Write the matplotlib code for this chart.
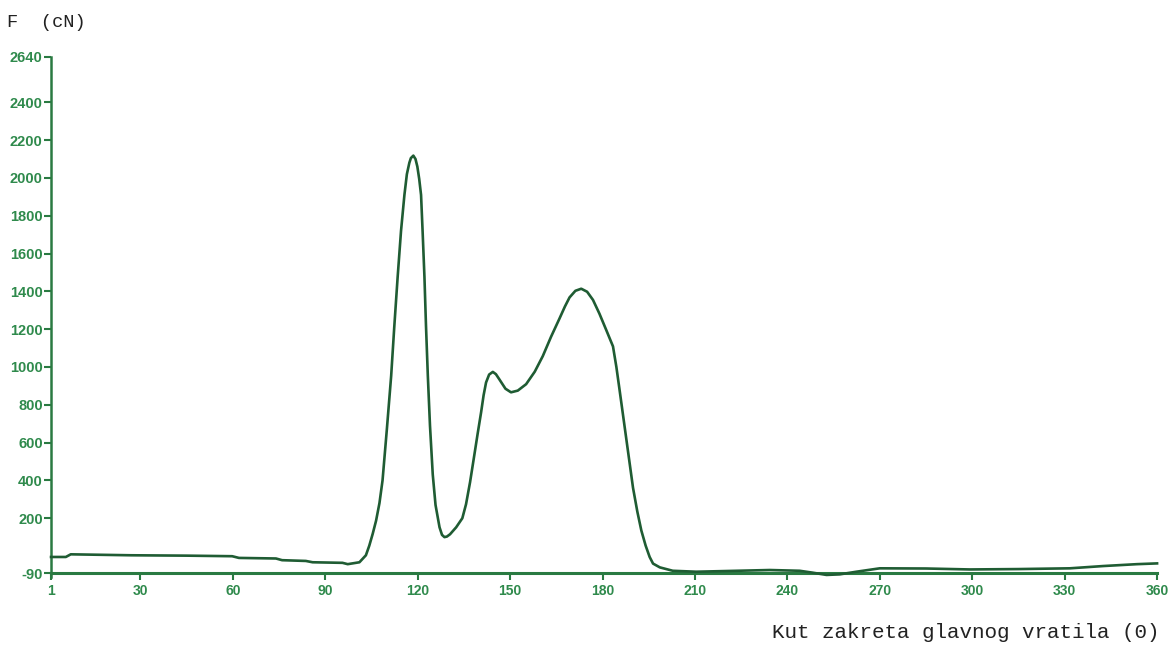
import matplotlib.pyplot as plt
import numpy as np

plt.rcParams["axes.unicode_minus"] = False

# Crank angle (deg) and force F (cN)
angle = [1, 5.8, 7.4, 27, 45, 59.8, 62, 74, 76, 83.7, 85.9, 95.6, 97.3, 101.1,
         103.2, 104.3, 105.4, 106.5, 107.6, 108.6, 110, 111.4, 112.4, 113.5,
         114.6, 115.7, 116.5, 117.3, 117.8, 118.6, 119.3, 119.9, 120.5, 121.1,
         121.6, 122.2, 122.7, 123.3, 124, 124.9, 125.8, 127.1, 127.9, 128.7,
         129.5, 130.5, 132.5, 134.5, 135.7, 137, 138.4, 139.5, 140.6, 141.4,
         142.2, 143.2, 144.4, 145.4, 146.5, 148.5, 150.3, 152.5, 155.2, 158,
         160.6, 163.3, 166, 167.8, 169.3, 171.2, 173.1, 175, 176.9, 179, 181.2,
         183.4, 184.5, 185.5, 187.7, 189.9, 191.3, 192.6, 194, 195.3, 196.4,
         198.6, 202.8, 210.4, 234.3, 244, 248.2, 252.7, 257, 262.4, 270,
         285, 299.2, 315, 331.7, 342.5, 353.5, 360]
force = [-5, -5, 9, 4, 2, -1, -10, -13, -22, -26, -33, -36, -43, -33,
         4, 55, 117, 187, 280, 400, 670, 953, 1210, 1475,
         1720, 1910, 2020, 2080, 2105, 2118, 2100, 2060, 1995, 1910,
         1720, 1477, 1220, 954, 690, 431, 270, 152, 112, 100,
         103, 115, 152, 200, 274, 390, 535, 650, 761, 850,
         918, 960, 974, 962, 935, 885, 866, 875, 909, 975,
         1057, 1160, 1255, 1320, 1368, 1403, 1414, 1398, 1355, 1282, 1196,
         1109, 1000, 883, 622, 361, 235, 135, 55, -5, -40,
         -60, -78, -83, -74, -78, -88, -100, -97, -83, -65,
         -66, -71, -69, -65, -53, -43, -39]

xticks = [1, 30, 60, 90, 120, 150, 180, 210, 240, 270, 300, 330, 360]
yticks = [-90, 200, 400, 600, 800, 1000, 1200, 1400, 1600, 1800, 2000, 2200, 2400, 2640]

curve_col = "#1f5c33"
axis_col = "#2a7a42"
text_col = "#2f8a4c"

fig = plt.figure(figsize=(11.76, 6.45), dpi=100)
ax = fig.add_axes([0.0434, 0.1057, 0.9405, 0.806])

ax.plot(angle, force, color=curve_col, lw=1.9, clip_on=False, zorder=3,
        solid_joinstyle="round")

ax.set_xlim(1, 360)
ax.set_ylim(-110, 2640)
ax.spines["top"].set_visible(False)
ax.spines["right"].set_visible(False)
ax.spines["bottom"].set_position(("data", -90))
ax.spines["bottom"].set_color(axis_col)
ax.spines["left"].set_color(axis_col)
ax.spines["bottom"].set_linewidth(2.2)
ax.spines["left"].set_linewidth(1.8)

ax.set_xticks(xticks)
ax.set_yticks(yticks)
ax.tick_params(axis="both", colors=axis_col, length=5, width=1.5,
               labelcolor=text_col)
ax.tick_params(axis="y", pad=1, labelsize=10.5)
ax.tick_params(axis="x", pad=3, labelsize=10)
for lab in ax.get_xticklabels() + ax.get_yticklabels():
    lab.set_fontweight("bold")
    lab.set_fontfamily("Liberation Sans")

fig.text(0.006, 0.965, "F  (cN)", family="Liberation Mono", fontsize=13.5,
         color="#222222", ha="left", va="center")
fig.text(0.986, 0.020, "Kut zakreta glavnog vratila (0)", family="Liberation Mono",
         fontsize=15, color="#222222", ha="right", va="center")

fig.savefig("out.png", dpi=100, facecolor="white")
